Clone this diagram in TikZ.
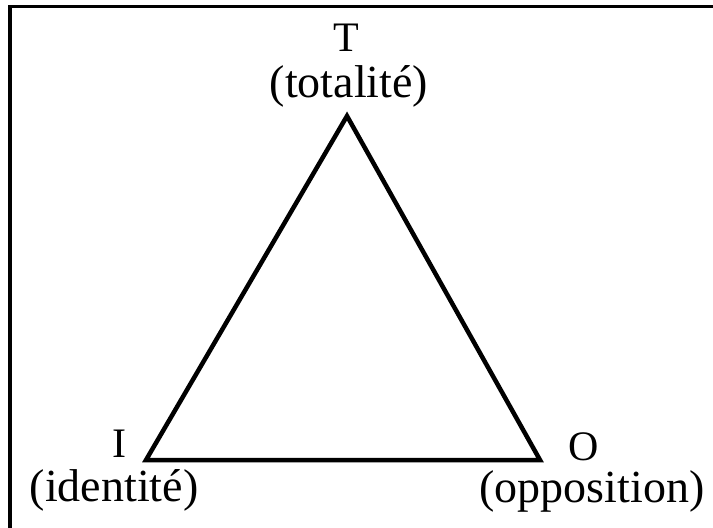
\documentclass[tikz,border=0pt]{standalone}
\usepackage{fontspec}
\setmainfont{Liberation Serif}
\usetikzlibrary{positioning}
\tikzset{
  letter/.style={inner sep=0pt,font=\fontsize{42}{46}\selectfont},
  gloss/.style={inner sep=0pt,font=\fontsize{46}{50}\selectfont},
  side/.style={line width=4.5pt,line join=miter,draw=black},
  frame/.style={line width=3.5pt,draw=black}
}
\begin{document}
\begin{tikzpicture}[x=1pt,y=-1pt]
  \useasboundingbox (0,0) rectangle (713,528);
  \draw[frame] (10,528) -- (10,6.5) -- (713,6.5);

  \coordinate (tv) at (347,116);
  \coordinate (iv) at (146,460);
  \coordinate (ov) at (540,460);

  \node[letter] (tl) at (346,38) {T};
  \node[gloss] (tg) at (349,86) {(totalité)};
  \node[letter] (il) at (119,444) {I};
  \node[gloss] (ig) at (114,490) {(identité)};
  \node[letter] (ol) at (584,447) {O};
  \node[gloss] (og) at (592,491) {(opposition)};

  \draw[side] (tv) -- (iv) -- (ov) -- cycle;
\end{tikzpicture}
\end{document}
